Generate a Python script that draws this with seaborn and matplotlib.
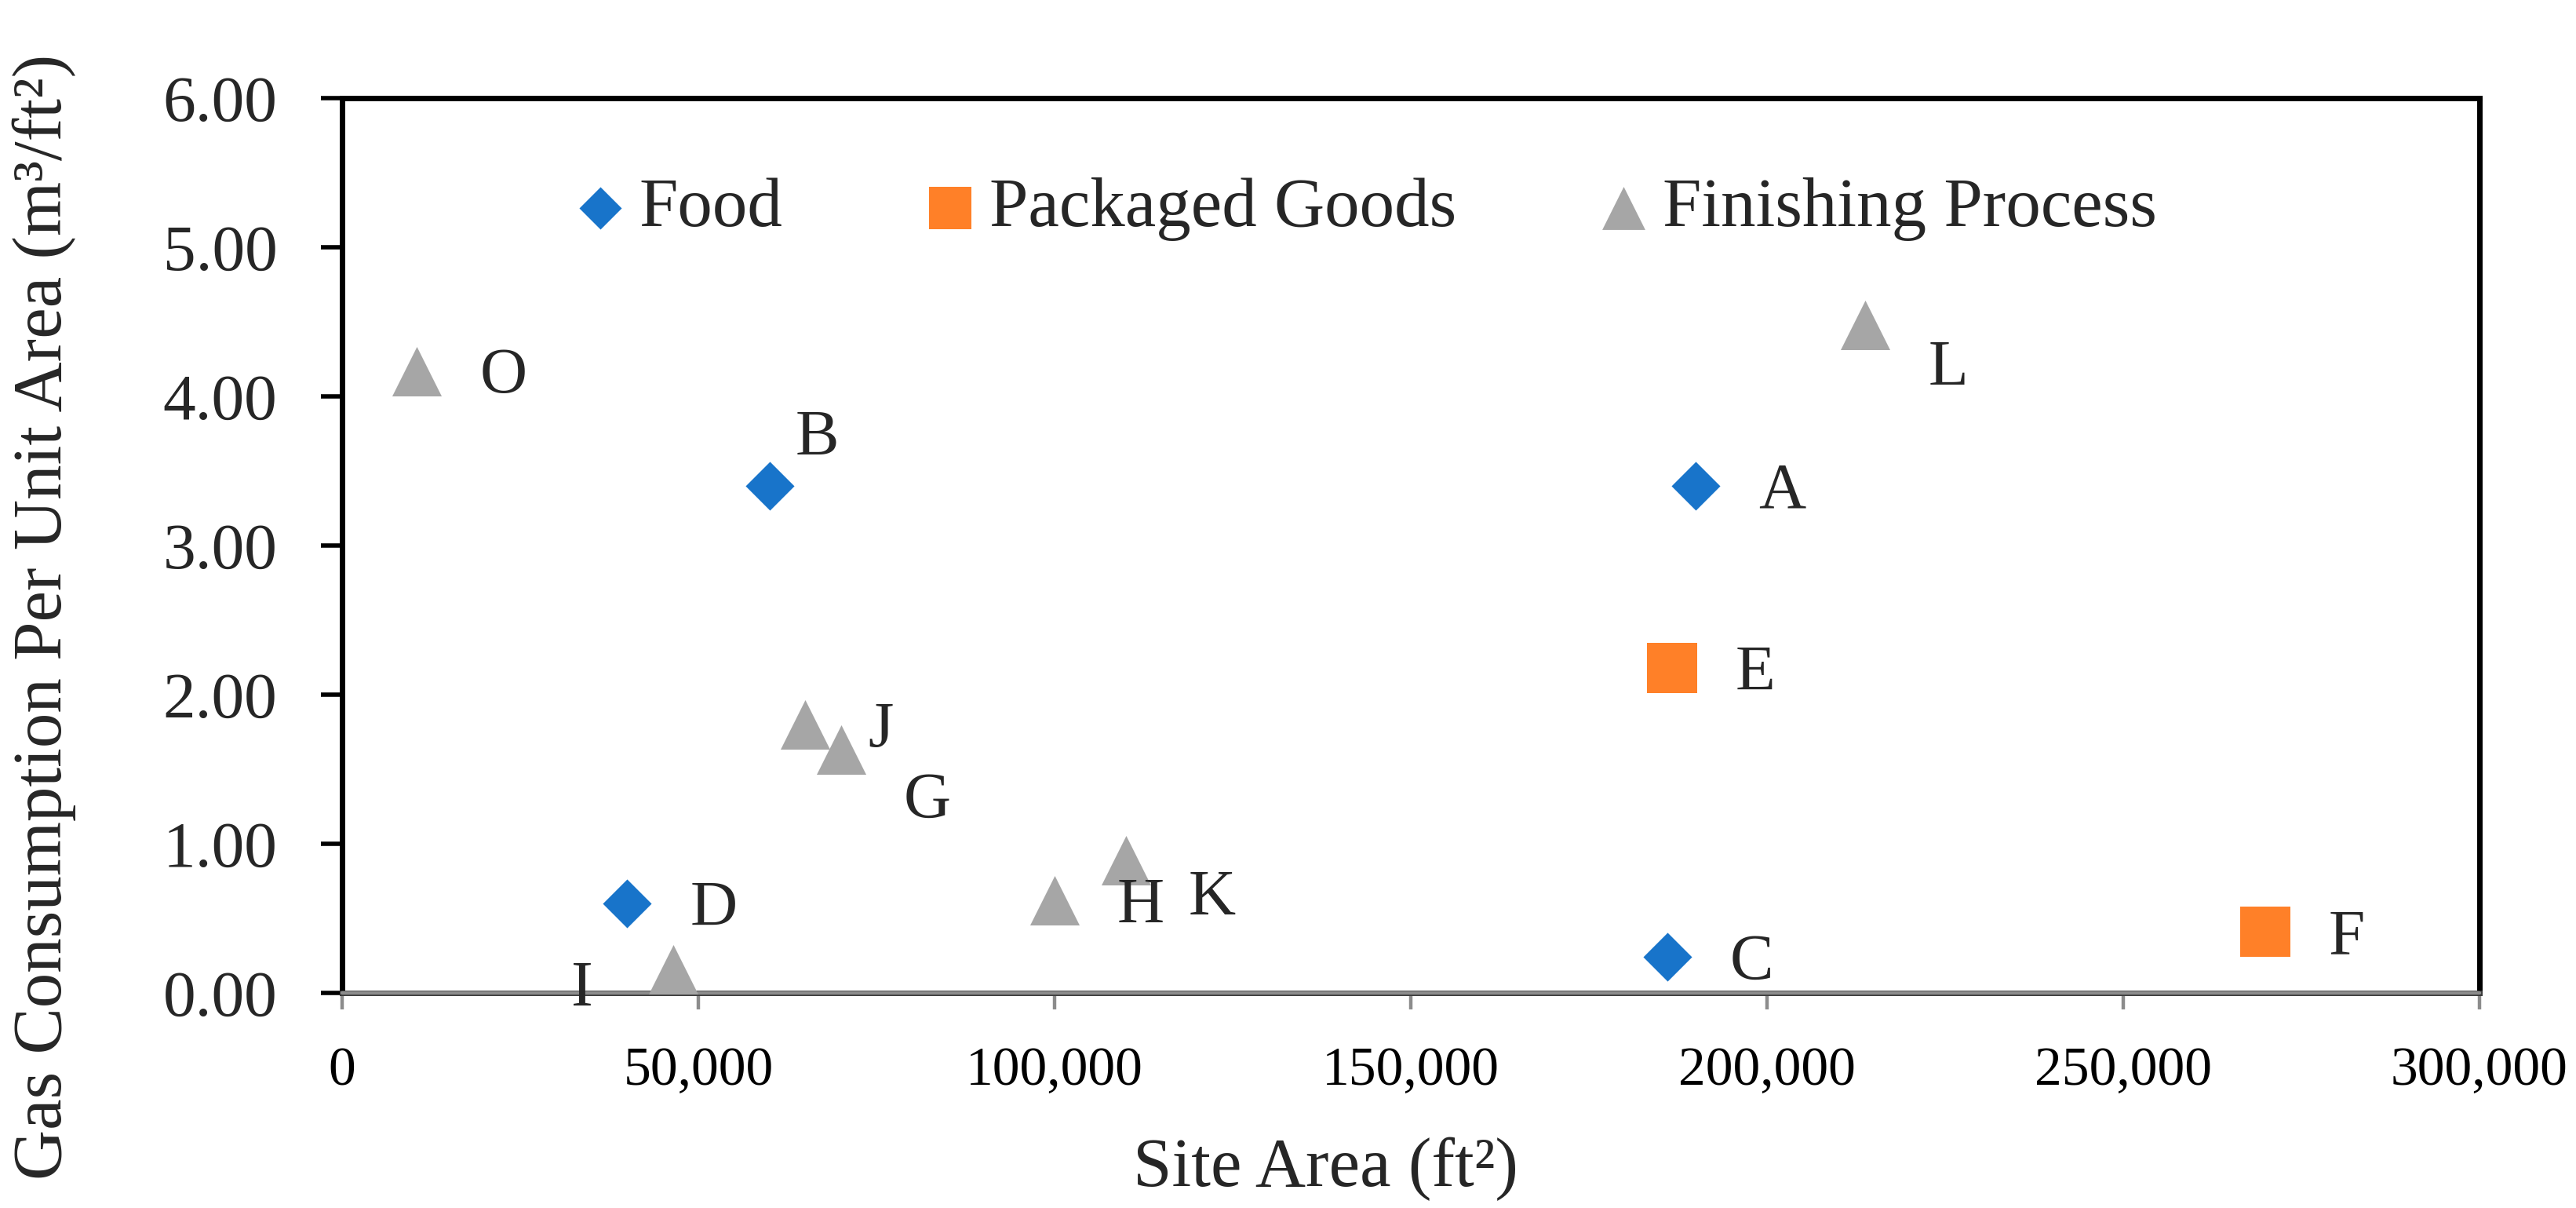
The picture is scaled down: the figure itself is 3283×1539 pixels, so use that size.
import numpy as np
import pandas as pd
import matplotlib.pyplot as plt
import seaborn as sns

# data
sites = ['A', 'B', 'C', 'D', 'E', 'F', 'G', 'H', 'I', 'J', 'K', 'L', 'O']
site_area = [190000, 60000, 186000, 40000, 186700, 270000, 70000, 100000, 46500, 65000, 110000, 213800, 10500]
gas_per_area = [3.40, 3.40, 0.24, 0.60, 2.18, 0.41, 1.63, 0.62, 0.16, 1.80, 0.89, 4.48, 4.17]
industry = ['Food', 'Food', 'Food', 'Food',
            'Packaged Goods', 'Packaged Goods',
            'Finishing Process', 'Finishing Process', 'Finishing Process', 'Finishing Process',
            'Finishing Process', 'Finishing Process', 'Finishing Process']
x_ticks = [0, 50000, 100000, 150000, 200000, 250000, 300000]
y_ticks = [0, 1, 2, 3, 4, 5, 6]

df = pd.DataFrame({'site': sites, 'area': site_area, 'gas': gas_per_area, 'industry': industry})

sns.set_style('white')
plt.rcParams['font.family'] = ['Liberation Serif', 'DejaVu Serif']

fig = plt.figure(figsize=(3283 / 200, 1539 / 200), dpi=200)
ax = fig.add_axes([0.1328, 0.178, 0.8297, 0.7408])

# marker, colour, size per group
styles = {'Food': ('D', '#1874CA', 250),
          'Packaged Goods': ('s', '#FF8028', 515),
          'Finishing Process': ('^', '#A6A6A6', 515)}
for name, (mk, col, size) in styles.items():
    sns.scatterplot(data=df[df.industry == name], x='area', y='gas', marker=mk, color=col,
                    s=size, linewidth=0, label=name, ax=ax, zorder=3, clip_on=False)

# point labels (offsets in points from the marker)
label_offsets = {'B': (11.9, 24.5), 'L': (28.8, -17.6), 'G': (28.8, -20.9),
                 'K': (28.8, -14.8), 'I': (-36.7, -6.8)}
for _, row in df.iterrows():
    dx, dy = label_offsets.get(row.site, (28.8, 0))
    ax.annotate(row.site, (row.area, row.gas), xytext=(dx, dy - 10), textcoords='offset points',
                ha='right' if dx < 0 else 'left', va='baseline', fontsize=30, zorder=4,
                annotation_clip=False)

ax.set_xlim(0, 300000)
ax.set_ylim(0, 6)
ax.set_xticks(x_ticks)
ax.set_xticklabels([f'{v:,}' for v in x_ticks])
ax.set_yticks(y_ticks)
ax.set_yticklabels([f'{v:.2f}' for v in y_ticks])
ax.tick_params(axis='x', bottom=True, direction='out', length=7.7, width=1.6, color='#8C8C8C',
               labelcolor='black', labelsize=25, pad=17)
ax.tick_params(axis='y', left=True, direction='out', length=9.7, width=2, color='black',
               labelsize=30, pad=20)

for side in ['left', 'right', 'top', 'bottom']:
    ax.spines[side].set_color('black')
    ax.spines[side].set_linewidth(2.5)
ax.spines['bottom'].set_color('#3a3a3a')
ax.axhline(0, color='#8C8C8C', lw=1.6, zorder=2.6, clip_on=False)

ax.set_xlabel('Site Area (ft²)', fontsize=32)
ax.xaxis.set_label_coords(0.46, -0.161)
ax.set_ylabel('Gas Consumption Per Unit Area (m³/ft²)', fontsize=32)
ax.yaxis.set_label_coords(-0.1245, 0.42)

ax.legend(loc='center left', bbox_to_anchor=(0.111, 0.876), ncol=3, frameon=False, fontsize=32,
          markerscale=0.87, handlelength=0.6, handletextpad=0.26, columnspacing=2.1,
          borderpad=0, borderaxespad=0)

fig.savefig('out.png', dpi=200)
